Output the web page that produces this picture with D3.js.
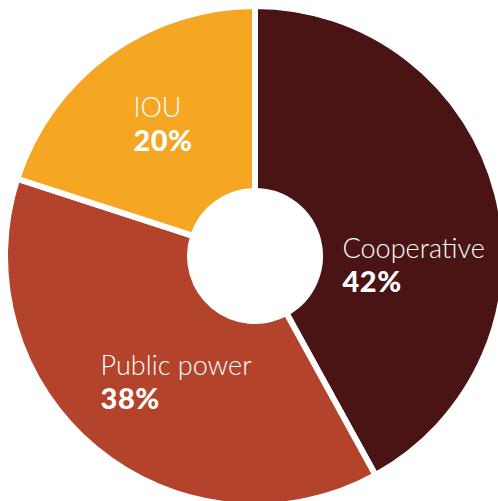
<!DOCTYPE html>
<html>
<head>
<meta charset="utf-8">
<script src="https://cdn.jsdelivr.net/npm/d3@7"></script>
<style>
  body { margin: 0; background: #fff; }
  .lbl { font-family: Lato, "Open Sans", sans-serif; fill: #fff; }
  .name { font-size: 27px; font-weight: 300; }
  .pct { font-size: 29px; font-weight: 900; letter-spacing: 0.5px; }
</style>
</head>
<body>
<div id="container"></div>
<script>
const categories = ["Cooperative", "Public power", "IOU"];
const shares = [42, 38, 20];
const colors = ["#4a1414", "#b3432a", "#f5a623"];

// label nudges from the slice centroid (text is left aligned)
const nudges = [[-65, 41], [-54, -2], [-29, -12]];

const width = 498;
const height = 501;
const cx = 255, cy = 256;

const svg = d3.select('#container').append('svg')
              .attr('width', width)
              .attr('height', height);

const g = svg.append('g').attr('transform', `translate(${cx},${cy})`);

const data = categories.map((c, i) => ({ name: c, value: shares[i], color: colors[i] }));

const pie = d3.pie().sort(null).value(d => d.value);
const arc = d3.arc().innerRadius(65).outerRadius(250);
const labelArc = d3.arc().innerRadius(157.5).outerRadius(157.5);

const arcs = pie(data);

g.selectAll('path')
 .data(arcs)
 .enter()
 .append('path')
 .attr('d', arc)
 .attr('fill', d => d.data.color)
 .attr('stroke', '#fff')
 .attr('stroke-width', 6)
 .attr('stroke-linejoin', 'miter');

const labels = g.selectAll('text.lbl')
                .data(arcs)
                .enter()
                .append('text')
                .attr('class', 'lbl')
                .attr('transform', (d, i) => {
                    const c = labelArc.centroid(d);
                    return `translate(${c[0] + nudges[i][0]},${c[1] + nudges[i][1]})`;
                });

labels.append('tspan')
      .attr('class', 'name')
      .attr('x', 0)
      .attr('y', 0)
      .text(d => d.data.name);

labels.append('tspan')
      .attr('class', 'pct')
      .attr('x', 0)
      .attr('y', 34)
      .text(d => d.data.value + '%');
</script>
</body>
</html>
